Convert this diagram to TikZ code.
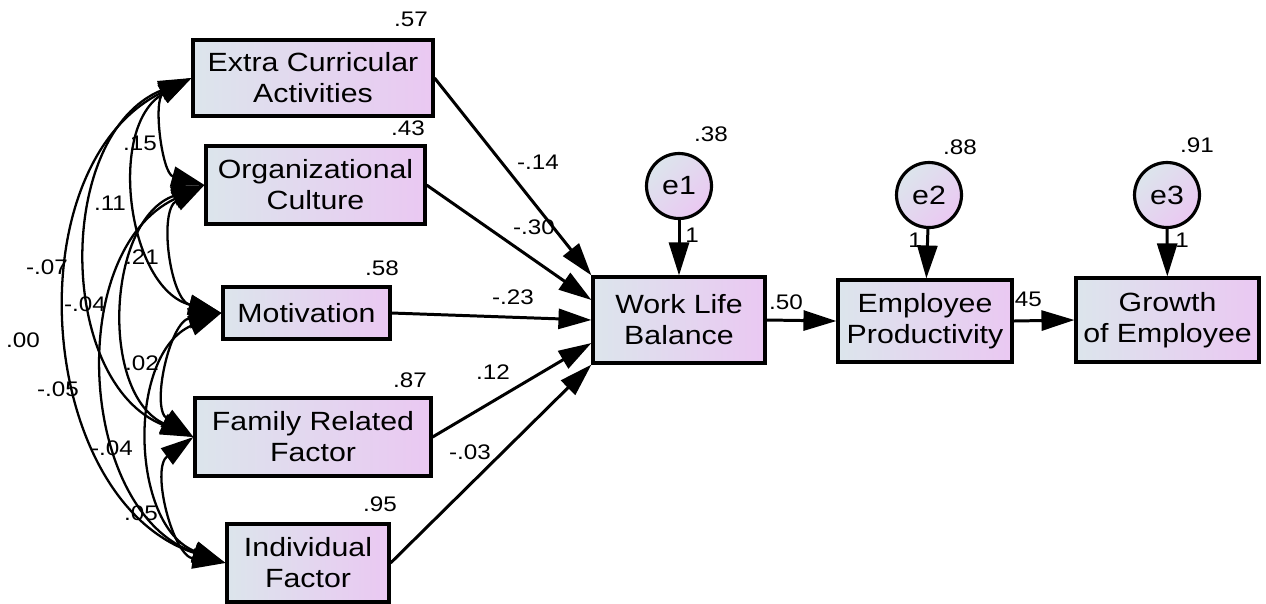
\documentclass[tikz,border=0pt]{standalone}
\usepackage{fontspec}
\setmainfont{Liberation Sans}[FakeStretch=1.15]
\usetikzlibrary{arrows.meta,positioning}

\definecolor{boxl}{RGB}{220,229,236}
\definecolor{boxr}{RGB}{234,200,242}

\tikzset{
  obs/.style={draw, line width=1.8pt, left color=boxl, right color=boxr, align=center,
    inner sep=0pt, font=\fontsize{15pt}{17.6pt}\selectfont},
  err/.style={draw, circle, line width=1.8pt, minimum size=1.3cm, inner sep=0pt,
    left color=boxl, right color=boxr, shading angle=45, font=\fontsize{15pt}{17.6pt}\selectfont},
  reg/.style={->, line width=1.7pt},
  cov/.style={<->, line width=1.3pt},
  lbl/.style={inner sep=0pt, font=\fontsize{12pt}{13pt}\selectfont}
}

\begin{document}
\begin{tikzpicture}[x=0.02cm, y=-0.02cm, >={Triangle[length=0.66cm, width=0.4cm]}]
    \useasboundingbox (0,0) rectangle (1266,603);
    % exogenous variables
    \node[obs, minimum width=4.8cm, minimum height=1.52cm] (eca) at (313,78) {Extra Curricular\\Activities};
    \node[obs, minimum width=4.38cm, minimum height=1.56cm] (oc) at (315.5,185) {Organizational\\Culture};
    \node[obs, minimum width=3.34cm, minimum height=1.04cm] (mot) at (306.5,313) {Motivation};
    \node[obs, minimum width=4.72cm, minimum height=1.56cm] (frf) at (313,437) {Family Related\\Factor};
    \node[obs, minimum width=3.24cm, minimum height=1.56cm] (ind) at (308,563) {Individual\\Factor};
    % endogenous variables
    \node[obs, minimum width=3.44cm, minimum height=1.72cm] (wlb) at (679,320) {Work Life\\Balance};
    \node[obs, minimum width=3.48cm, minimum height=1.64cm] (emp) at (925,321) {Employee\\Productivity};
    \node[obs, minimum width=3.66cm, minimum height=1.68cm] (goe) at (1167.5,320) {Growth\\of Employee};
    % error terms
    \node[err] (e1) at (679,186) {e1};
    \node[err] (e2) at (929,195) {e2};
    \node[err] (e3) at (1167,195) {e3};

    % covariances
    \foreach \a/\b in {eca/oc, eca/mot, eca/frf, eca/ind, oc/mot, oc/frf, oc/ind, mot/frf, mot/ind, frf/ind}
        \draw[cov] (\a.west) to[bend right=68, looseness=1.05] (\b.west);

    % paths
    \draw[reg] (eca.east) -- (wlb.north west);
    \draw[reg] (oc.east) -- ([yshift=0.4cm]wlb.west);
    \draw[reg] (mot.east) -- (wlb.west);
    \draw[reg] (frf.east) -- ([yshift=-0.46cm]wlb.west);
    \draw[reg] (ind.east) -- (wlb.south west);
    \draw[reg] (wlb.east) -- (emp.west);
    \draw[reg] (emp.east) -- (goe.west);
    \draw[reg] (e1) -- (wlb);
    \draw[reg] (e2) -- (emp);
    \draw[reg] (e3) -- (goe);

    % estimates
    \node[lbl] at (411,19) {.57};
    \node[lbl] at (408,128) {.43};
    \node[lbl] at (382,268) {.58};
    \node[lbl] at (410,380) {.87};
    \node[lbl] at (380,504) {.95};
    \node[lbl] at (711,134) {.38};
    \node[lbl] at (960,147) {.88};
    \node[lbl] at (1197,145) {.91};
    \node[lbl] at (538,162) {-.14};
    \node[lbl] at (534,227) {-.30};
    \node[lbl] at (513,297) {-.23};
    \node[lbl] at (493,372) {.12};
    \node[lbl] at (470,452) {-.03};
    \node[lbl] at (786,302) {.50};
    \node[lbl] at (1025,299) {.45};
    \node[lbl] at (692,235) {1};
    \node[lbl] at (915,240) {1};
    \node[lbl] at (1182,240) {1};
    \node[lbl] at (140,143) {.15};
    \node[lbl] at (110,203) {.11};
    \node[lbl] at (47,267) {-.07};
    \node[lbl] at (142,257) {.21};
    \node[lbl] at (85,304) {-.04};
    \node[lbl] at (23,340) {.00};
    \node[lbl] at (58,389) {-.05};
    \node[lbl] at (142,363) {.02};
    \node[lbl] at (112,448) {-.04};
    \node[lbl] at (141,513) {.05};
\end{tikzpicture}
\end{document}
